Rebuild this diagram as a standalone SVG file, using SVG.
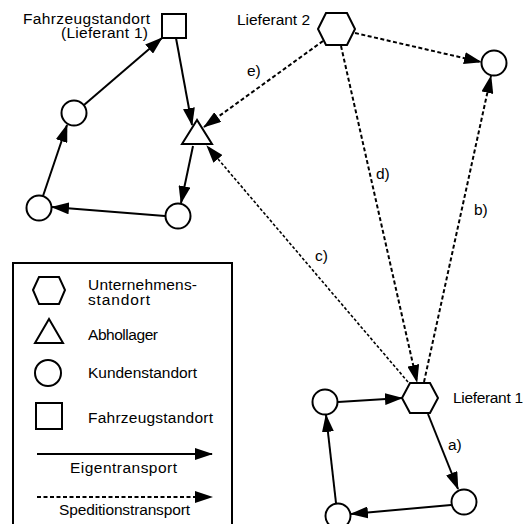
<svg xmlns="http://www.w3.org/2000/svg" width="524" height="524" viewBox="0 0 524 524">
<style>
text{font-family:"Liberation Sans",Arial,Helvetica,sans-serif;font-size:15.5px;fill:#000}
.n{fill:#fff;stroke:#000;stroke-width:2}
.s{stroke:#000;stroke-width:2;fill:none}
.d{stroke:#000;stroke-width:2;fill:none;stroke-dasharray:4 2.5}
.dt{stroke:#000;stroke-width:1.6;fill:none;stroke-dasharray:3 2}
</style>
<defs>
<marker id="ah" markerUnits="userSpaceOnUse" markerWidth="18" markerHeight="12" refX="17" refY="6" orient="auto" viewBox="0 0 18 12">
<path d="M0,0 L18,6 L0,12 z" fill="#000"/>
</marker>
</defs>
<rect width="524" height="524" fill="#fff"/>

<g id="connectors">
<line class="s" x1="84" y1="105" x2="162" y2="38" marker-end="url(#ah)"/>
<line class="s" x1="176" y1="38" x2="192" y2="125" marker-end="url(#ah)"/>
<line class="s" x1="193" y1="146" x2="181" y2="203" marker-end="url(#ah)"/>
<line class="s" x1="165" y1="216" x2="52" y2="207" marker-end="url(#ah)"/>
<line class="s" x1="43" y1="196" x2="67" y2="125" marker-end="url(#ah)"/>
<line class="s" x1="338" y1="402" x2="402" y2="398" marker-end="url(#ah)"/>
<line class="s" x1="428" y1="414" x2="458" y2="489" marker-end="url(#ah)"/>
<line class="s" x1="451" y1="505" x2="351" y2="514" marker-end="url(#ah)"/>
<line class="s" x1="336" y1="503" x2="326" y2="415" marker-end="url(#ah)"/>
<line class="d" x1="355" y1="33" x2="481" y2="62" marker-end="url(#ah)"/>
<line class="d" x1="323" y1="41" x2="204" y2="127" marker-end="url(#ah)"/>
<line class="d" x1="341" y1="46" x2="417" y2="382" marker-end="url(#ah)"/>
<line class="d" x1="424" y1="382" x2="491" y2="76" marker-end="url(#ah)"/>
<line class="dt" x1="408" y1="382" x2="207" y2="146" marker-end="url(#ah)"/>
<text x="247" y="76">e)</text>
<text x="376" y="179">d)</text>
<text x="474" y="215">b)</text>
<text x="315" y="261">c)</text>
<text x="448" y="450">a)</text>
</g>

<g id="fahrzeugstandort">
<rect class="n" x="162" y="14" width="24" height="24"/>
<text x="150" y="24" text-anchor="end" textLength="127">Fahrzeugstandort</text>
<text x="148" y="38" text-anchor="end" textLength="87">(Lieferant 1)</text>
</g>
<g id="abhollager">
<polygon class="n" points="197,120 182,144 212,144"/>
</g>
<g id="kunde-a"><circle class="n" cx="74" cy="113" r="12.5"/></g>
<g id="kunde-b"><circle class="n" cx="39" cy="208" r="12.5"/></g>
<g id="kunde-c"><circle class="n" cx="178" cy="216" r="12.5"/></g>
<g id="lieferant2">
<polygon class="n" points="318,29 326,13 347,13 355,29 347,45 326,45"/>
<text x="237" y="25" textLength="73">Lieferant 2</text>
</g>
<g id="kunde-d"><circle class="n" cx="494" cy="63" r="12.5"/></g>
<g id="lieferant1">
<polygon class="n" points="402,398 410,383 430,383 438,398 430,413 410,413"/>
<text x="453" y="403" textLength="70">Lieferant 1</text>
</g>
<g id="kunde-e"><circle class="n" cx="325" cy="402" r="12.5"/></g>
<g id="kunde-f"><circle class="n" cx="464" cy="502" r="12.5"/></g>
<g id="kunde-g"><circle class="n" cx="338" cy="516" r="12.5"/></g>

<g id="legend">
<rect x="13" y="263" width="219" height="300" fill="#fff" stroke="#000" stroke-width="2"/>
<polygon class="n" points="33,290 39,277 59,277 65,290 59,304 39,304"/>
<text x="88" y="290" textLength="109">Unternehmens-</text>
<text x="88" y="305" textLength="62">standort</text>
<polygon class="n" points="49,319 35,343 63,343"/>
<text x="88" y="340" textLength="70">Abhollager</text>
<circle class="n" cx="48" cy="373" r="13"/>
<text x="88" y="378" textLength="109">Kundenstandort</text>
<rect class="n" x="36" y="403" width="26" height="26"/>
<text x="88" y="423" textLength="125">Fahrzeugstandort</text>
<line class="s" x1="37" y1="454" x2="212" y2="454" marker-end="url(#ah)"/>
<text x="70" y="473" textLength="107">Eigentransport</text>
<line class="d" x1="37" y1="497" x2="212" y2="497" marker-end="url(#ah)"/>
<text x="59" y="515" textLength="131">Speditionstransport</text>
</g>
</svg>
